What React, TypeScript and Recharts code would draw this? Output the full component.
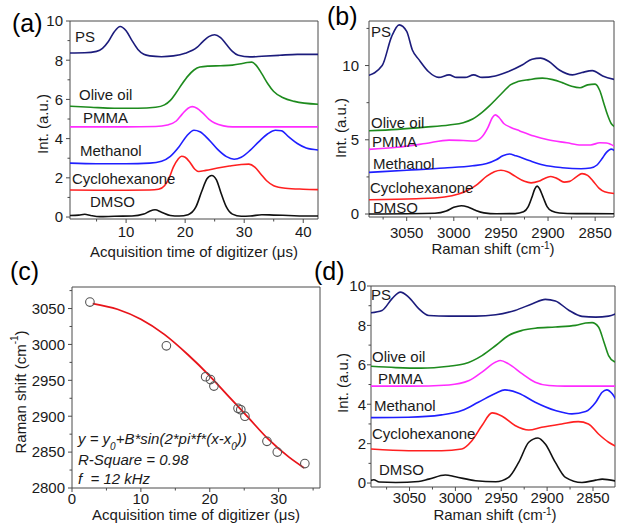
import { ComposedChart, Line, Scatter, XAxis, YAxis, ReferenceArea } from "recharts";

type P = [number, number];

// (a) signal vs acquisition time (µs)
const psA: P[] = [[0.5, 8.37], [3, 8.38], [5, 8.45], [6, 8.6], [7, 8.95], [8, 9.45], [9, 9.72], [10, 9.5], [11, 9.0], [12, 8.55], [13, 8.3], [14, 8.22], [16, 8.18], [18, 8.22], [20, 8.35], [22, 8.65], [23, 8.95], [24, 9.2], [25, 9.3], [26, 9.15], [27, 8.8], [28, 8.45], [29, 8.25], [31, 8.17], [33, 8.2], [36, 8.25], [39, 8.3], [42.5, 8.3]];
const oliveA: P[] = [[0.5, 5.65], [4, 5.6], [8, 5.55], [12, 5.55], [15, 5.6], [16.5, 5.72], [17.5, 5.95], [18.5, 6.35], [19.5, 6.8], [20.5, 7.2], [21.5, 7.5], [22.5, 7.65], [24, 7.7], [26, 7.72], [28, 7.75], [29.5, 7.82], [30.5, 7.88], [31.3, 7.9], [32, 7.75], [33, 7.3], [34, 6.8], [35, 6.4], [36.5, 6.1], [38.5, 5.9], [42.5, 5.75]];
const pmmaA: P[] = [[0.5, 4.6], [10, 4.6], [15, 4.62], [17, 4.7], [18.5, 4.9], [19.5, 5.25], [20.5, 5.55], [21.2, 5.63], [22, 5.55], [23, 5.3], [24, 5.0], [25, 4.8], [26.5, 4.65], [28, 4.6], [42.5, 4.6]];
const methA: P[] = [[0.5, 2.75], [5, 2.72], [10, 2.72], [14, 2.75], [16, 2.85], [17.5, 3.1], [19, 3.6], [20.3, 4.15], [21.5, 4.43], [22.5, 4.35], [24, 3.95], [25.5, 3.45], [27, 3.08], [28.3, 2.95], [29.5, 3.05], [31, 3.4], [32.5, 3.85], [34, 4.25], [35.3, 4.43], [36.3, 4.4], [37.5, 4.1], [39, 3.75], [40.5, 3.52], [42.5, 3.42]];
const cycloA: P[] = [[0.5, 1.38], [5, 1.37], [10, 1.37], [14, 1.38], [15.5, 1.42], [16.5, 1.6], [17.3, 2.0], [18, 2.55], [18.8, 2.95], [19.4, 3.1], [20, 3.05], [20.8, 2.8], [21.6, 2.45], [22.3, 2.32], [23.5, 2.38], [25.5, 2.5], [27.5, 2.6], [29.5, 2.68], [30.8, 2.7], [31.8, 2.55], [32.8, 2.2], [33.8, 1.85], [35, 1.6], [37, 1.47], [40, 1.42], [42.5, 1.4]];
const dmsoA: P[] = [[0.5, 0.08], [2, 0.1], [3, 0.14], [4, 0.08], [5.5, 0.02], [8, 0.04], [11, 0.05], [13, 0.15], [14, 0.3], [14.9, 0.37], [16, 0.25], [17.5, 0.08], [19, 0.05], [20.5, 0.12], [21.8, 0.5], [22.8, 1.3], [23.7, 1.95], [24.5, 2.12], [25.3, 1.9], [26.1, 1.2], [27, 0.5], [28, 0.15], [29.5, 0.04], [31, 0.05], [33, 0.12], [35, 0.1], [37.5, 0.08], [40, 0.05], [42.5, 0.05]];

// (b) reference Raman spectra
const psB: P[] = [[3092, 9.3], [3076, 10.0], [3066, 11.95], [3058, 12.74], [3050, 12.3], [3044, 11.05], [3037, 10.4], [3027, 9.6], [3016, 9.2], [3005, 9.37], [2997, 9.2], [2988, 9.2], [2979, 9.37], [2970, 9.2], [2956, 9.3], [2942, 9.6], [2927, 10.05], [2917, 10.43], [2908, 10.5], [2899, 10.27], [2888, 9.7], [2874, 9.37], [2864, 9.53], [2853, 9.66], [2842, 9.3], [2828, 9.04]];
const oliveB: P[] = [[3092, 5.6], [3060, 5.7], [3030, 5.85], [3005, 6.0], [2990, 6.15], [2980, 6.4], [2970, 6.85], [2962, 7.3], [2955, 7.75], [2948, 8.2], [2940, 8.7], [2932, 8.92], [2920, 9.05], [2906, 9.15], [2895, 9.05], [2885, 8.85], [2875, 8.6], [2866, 8.5], [2858, 8.7], [2850, 8.75], [2845, 8.3], [2841, 7.5], [2837, 6.7], [2833, 6.1], [2828, 5.85]];
const pmmaB: P[] = [[3092, 4.35], [3060, 4.5], [3030, 4.75], [3005, 4.98], [2990, 4.95], [2978, 4.92], [2970, 5.2], [2964, 5.8], [2959, 6.5], [2956, 6.68], [2952, 6.5], [2947, 6.1], [2940, 5.85], [2930, 5.6], [2915, 5.25], [2900, 5.0], [2880, 4.8], [2865, 4.65], [2855, 4.65], [2845, 4.8], [2838, 4.78], [2828, 4.5]];
const methB: P[] = [[3092, 2.8], [3050, 2.95], [3010, 3.1], [2980, 3.25], [2965, 3.4], [2955, 3.65], [2948, 3.92], [2941, 4.04], [2934, 3.92], [2920, 3.6], [2905, 3.3], [2885, 3.12], [2865, 3.05], [2855, 3.1], [2848, 3.3], [2843, 3.7], [2838, 4.15], [2833, 4.37], [2828, 4.2]];
const cycloB: P[] = [[3092, 0.96], [3040, 1.03], [3010, 1.15], [2995, 1.35], [2985, 1.6], [2975, 2.0], [2965, 2.55], [2957, 2.85], [2950, 2.95], [2943, 2.85], [2935, 2.55], [2925, 2.2], [2918, 2.1], [2910, 2.2], [2902, 2.45], [2897, 2.53], [2890, 2.38], [2883, 2.15], [2877, 2.2], [2870, 2.5], [2864, 2.72], [2858, 2.6], [2852, 2.2], [2846, 1.75], [2840, 1.5], [2828, 1.37]];
const dmsoB: P[] = [[3092, 0], [3020, 0.05], [3008, 0.2], [3000, 0.45], [2992, 0.56], [2985, 0.47], [2977, 0.25], [2968, 0.08], [2955, 0.02], [2935, 0.03], [2926, 0.15], [2921, 0.5], [2917, 1.15], [2914, 1.7], [2911.5, 1.88], [2909, 1.7], [2905, 1.1], [2901, 0.5], [2896, 0.2], [2888, 0.07], [2870, 0.03], [2828, 0.02]];

// (c) peak position vs time, with sine fit
const peaks: P[] = [[2.6, 3059], [13.7, 2998], [19.4, 2955], [20.1, 2951], [20.6, 2942], [24.1, 2911], [24.5, 2909], [25.1, 2900], [28.3, 2865], [29.8, 2850], [33.8, 2834]];
const fit: P[] = [[3, 3057], [6.6, 3049], [10, 3035], [13.4, 3014], [16.8, 2986], [19.8, 2958], [22.7, 2928], [25.6, 2898], [28.5, 2868], [31.5, 2843], [33.7, 2828]];

// (d) reconstructed spectra
const psD: P[] = [[3093, 8.64], [3080, 8.76], [3069, 9.36], [3060, 9.69], [3051, 9.44], [3040, 8.85], [3029, 8.5], [3007, 8.47], [2978, 8.47], [2956, 8.54], [2935, 8.76], [2916, 9.1], [2902, 9.32], [2891, 9.24], [2876, 8.76], [2862, 8.46], [2847, 8.42], [2833, 8.47], [2825, 8.59]];
const oliveD: P[] = [[3093, 5.93], [3065, 5.86], [3037, 5.83], [3007, 5.93], [2990, 6.05], [2971, 6.47], [2956, 6.98], [2942, 7.49], [2927, 7.75], [2913, 7.86], [2891, 7.92], [2869, 8.0], [2858, 8.12], [2851, 8.14], [2844, 7.92], [2838, 7.15], [2833, 6.47], [2827, 6.17], [2825, 6.14]];
const pmmaD: P[] = [[3093, 4.92], [3051, 4.92], [3007, 4.98], [2985, 5.2], [2971, 5.63], [2956, 6.14], [2951, 6.22], [2942, 6.05], [2927, 5.54], [2913, 5.12], [2898, 4.95], [2880, 4.92], [2825, 4.92]];
const methD: P[] = [[3093, 3.32], [3051, 3.34], [3015, 3.46], [2993, 3.68], [2975, 4.1], [2956, 4.56], [2946, 4.73], [2931, 4.56], [2913, 4.1], [2891, 3.68], [2873, 3.51], [2858, 3.63], [2847, 4.1], [2840, 4.61], [2835, 4.73], [2829, 4.53], [2825, 4.24]];
const cycloD: P[] = [[3093, 1.73], [3051, 1.64], [3015, 1.64], [2993, 1.73], [2982, 2.15], [2971, 2.92], [2960, 3.56], [2949, 3.39], [2935, 2.92], [2920, 2.69], [2906, 2.83], [2884, 3.0], [2866, 3.12], [2855, 3.0], [2844, 2.49], [2833, 2.07], [2825, 1.86]];
const dmsoD: P[] = [[3093, 0.12], [3089, 0.17], [3083, 0.05], [3065, 0.03], [3040, 0.08], [3029, 0.2], [3011, 0.41], [3000, 0.32], [2978, 0.12], [2956, 0.07], [2942, 0.29], [2931, 1.05], [2920, 2.07], [2910, 2.29], [2902, 1.98], [2891, 1.05], [2880, 0.29], [2862, 0.03], [2847, 0.15], [2840, 0.2], [2825, 0.1]];

const names = ["PS", "Olive oil", "PMMA", "Methanol", "Cyclohexanone", "DMSO"];
const colors = ["#1c1c7c", "#1e8b1e", "#ff2cff", "#1f1fff", "#ff2020", "#111111"];

const timeTicks = [5, 10, 15, 20, 25, 30, 35, 40];
const ramanTicks = [3075, 3050, 3025, 3000, 2975, 2950, 2925, 2900, 2875, 2850];
const ramanMajors = [3050, 3000, 2950, 2900, 2850];
const intTicks10 = [0, 1, 2, 3, 4, 5, 6, 7, 8, 9, 10];
const intMajors10 = [0, 2, 4, 6, 8, 10];
const intTicksB = [0, 2.5, 5, 7.5, 10, 12.5];
const fitXTicks = [0, 5, 10, 15, 20, 25, 30, 35];
const fitYTicks = [2800, 2825, 2850, 2875, 2900, 2925, 2950, 2975, 3000, 3025, 3050, 3075];

const FONT = "Arial, 'Liberation Sans', Helvetica, sans-serif";
const AX = "#4a4a4a";
const TXT = "#1a1a1a";

const toPts = (a: P[]) => a.map(([x, y]) => ({ x, y }));

function xTick(majors: number[], gap: number) {
  return (p: any) => {
    const v = p.payload.value;
    const major = majors.includes(v);
    return (
      <g>
        <line x1={p.x} x2={p.x} y1={p.y} y2={p.y + (major ? 4 : 2.5)} stroke={AX} />
        {major ? (
          <text x={p.x} y={p.y + gap} dy="0.71em" textAnchor="middle" fontSize={15} fontFamily={FONT} fill={TXT}>
            {v}
          </text>
        ) : null}
      </g>
    );
  };
}

function yTick(majors: number[], gap: number) {
  return (p: any) => {
    const v = p.payload.value;
    const major = majors.includes(v);
    return (
      <g>
        <line x1={p.x - (major ? 4 : 2.5)} x2={p.x} y1={p.y} y2={p.y} stroke={AX} />
        {major ? (
          <text x={p.x - gap} y={p.y} dy="0.355em" textAnchor="end" fontSize={15} fontFamily={FONT} fill={TXT}>
            {v}
          </text>
        ) : null}
      </g>
    );
  };
}

function SpectraPanel(props: any) {
  const { box, margin, yWidth, xHeight, xDomain, yDomain, xTicks, xMajors, yTicks, yMajors, reversed, series, xGap, yGap } = props;
  return (
    <div style={{ position: "absolute", left: box[0], top: box[1] }}>
      <ComposedChart width={box[2]} height={box[3]} margin={margin}>
        <XAxis type="number" dataKey="x" domain={xDomain} ticks={xTicks} interval={0} reversed={reversed} allowDataOverflow
          height={xHeight} axisLine={false} tickLine={false} tickSize={0} tickMargin={0} tick={xTick(xMajors, xGap)} />
        <YAxis type="number" dataKey="y" domain={yDomain} ticks={yTicks} interval={0} allowDataOverflow
          width={yWidth} axisLine={false} tickLine={false} tickSize={0} tickMargin={0} tick={yTick(yMajors, yGap)} />
        {series.map((d: P[], i: number) => (
          <Line key={names[i]} data={toPts(d)} dataKey="y" type="monotone" stroke={colors[i]} strokeWidth={1.6}
            dot={false} isAnimationActive={false} />
        ))}
        <ReferenceArea x1={xDomain[0]} x2={xDomain[1]} y1={yDomain[0]} y2={yDomain[1]} fill="none" fillOpacity={0}
          stroke={AX} strokeWidth={1} />
      </ComposedChart>
    </div>
  );
}

function FitPanel() {
  const xDomain = [0, 36];
  const yDomain = [2800, 3080];
  return (
    <div style={{ position: "absolute", left: 0, top: 262 }}>
      <ComposedChart width={330} height={263} margin={{ top: 25, right: 10, bottom: 0, left: 0 }}>
        <XAxis type="number" dataKey="x" domain={xDomain} ticks={fitXTicks} interval={0} allowDataOverflow height={37}
          axisLine={false} tickLine={false} tickSize={0} tickMargin={0} tick={xTick([0, 10, 20, 30], 5)} />
        <YAxis type="number" dataKey="y" domain={yDomain} ticks={fitYTicks} interval={0} allowDataOverflow width={72}
          axisLine={false} tickLine={false} tickSize={0} tickMargin={0}
          tick={yTick([2800, 2850, 2900, 2950, 3000, 3050], 7)} />
        <Line data={toPts(fit)} dataKey="y" type="monotone" stroke="#e8141a" strokeWidth={1.8} dot={false}
          isAnimationActive={false} />
        <Scatter data={toPts(peaks)} dataKey="y" isAnimationActive={false}
          shape={(p: any) => <circle cx={p.cx} cy={p.cy} r={4.3} fill="none" stroke="#555" strokeWidth={1.1} />} />
        <ReferenceArea x1={xDomain[0]} x2={xDomain[1]} y1={yDomain[0]} y2={yDomain[1]} fill="none" fillOpacity={0}
          stroke={AX} strokeWidth={1} />
      </ComposedChart>
    </div>
  );
}

const labelPos: Record<string, [number, number][]> = {
  a: [[75, 42], [79, 100], [83, 123], [80, 156], [72, 184], [90, 207]],
  b: [[371, 37], [371, 128], [372, 147], [373, 169], [370, 193], [373, 213]],
  d: [[371, 300], [372, 362], [378, 384], [374, 411], [372, 439], [379, 475]],
};

function Overlay() {
  const t = { fontFamily: FONT, fontSize: 15, fill: TXT } as const;
  const cm = (
    <>
      Raman shift (cm<tspan baselineShift="super" fontSize={10}>-1</tspan>)
    </>
  );
  return (
    <svg width={618} height={525} style={{ position: "absolute", left: 0, top: 0, pointerEvents: "none" }}>
      <text x={12} y={32} fontSize={25} fontFamily={FONT} fill="#000">(a)</text>
      <text x={327} y={25} fontSize={25} fontFamily={FONT} fill="#000">(b)</text>
      <text x={10} y={280} fontSize={25} fontFamily={FONT} fill="#000">(c)</text>
      <text x={314} y={280} fontSize={25} fontFamily={FONT} fill="#000">(d)</text>

      {(["a", "b", "d"] as const).map((k) =>
        labelPos[k].map(([x, y], i) => (
          <text key={k + i} x={x} y={y} {...t}>{names[i]}</text>
        ))
      )}

      <text x={194} y={257} textAnchor="middle" {...t}>Acquisition time of digitizer (μs)</text>
      <text x={196} y={520} textAnchor="middle" {...t}>Acquisition time of digitizer (μs)</text>
      <text x={493} y={254} textAnchor="middle" {...t}>{cm}</text>
      <text x={495} y={520} textAnchor="middle" {...t}>{cm}</text>

      <text transform="translate(42,124) rotate(-90)" textAnchor="middle" dominantBaseline="central" {...t}>Int. (a.u.)</text>
      <text transform="translate(340.5,128) rotate(-90)" textAnchor="middle" dominantBaseline="central" {...t}>Int. (a.u.)</text>
      <text transform="translate(342.5,383) rotate(-90)" textAnchor="middle" dominantBaseline="central" {...t}>Int. (a.u.)</text>
      <text transform="translate(20,392) rotate(-90)" textAnchor="middle" dominantBaseline="central" {...t}>{cm}</text>

      <text x={78} y={444} fontStyle="italic" {...t}>
        y = y<tspan baselineShift="sub" fontSize={10}>0</tspan>+B*sin(2*pi*f*(x-x<tspan baselineShift="sub" fontSize={10}>0</tspan>))
      </text>
      <text x={78} y={465} fontStyle="italic" {...t}>R-Square = 0.98</text>
      <text x={78} y={484} fontStyle="italic" {...t}>{"f\u00a0 = 12 kHz"}</text>
    </svg>
  );
}

export default function App() {
  return (
    <div style={{ position: "absolute", left: 0, top: 0, width: 618, height: 525, background: "#fff", overflow: "hidden" }}>
      <SpectraPanel box={[0, 0, 330, 262]} margin={{ top: 21, right: 12, bottom: 0, left: 0 }} yWidth={70} xHeight={43}
        xDomain={[0.5, 42.5]} yDomain={[-0.1, 10]} xTicks={timeTicks} xMajors={[10, 20, 30, 40]}
        yTicks={intTicks10} yMajors={intMajors10} reversed={false} xGap={7} yGap={7}
        series={[psA, oliveA, pmmaA, methA, cycloA, dmsoA]} />
      <SpectraPanel box={[300, 0, 318, 262]} margin={{ top: 21, right: 4, bottom: 0, left: 0 }} yWidth={69} xHeight={45}
        xDomain={[2830, 3090]} yDomain={[-0.2, 13]} xTicks={ramanTicks} xMajors={ramanMajors}
        yTicks={intTicksB} yMajors={[0, 5, 10]} reversed xGap={10} yGap={10}
        series={[psB, oliveB, pmmaB, methB, cycloB, dmsoB]} />
      <FitPanel />
      <SpectraPanel box={[300, 262, 318, 263]} margin={{ top: 24, right: 3, bottom: 0, left: 0 }} yWidth={71} xHeight={38}
        xDomain={[2826, 3092]} yDomain={[-0.2, 10]} xTicks={ramanTicks} xMajors={ramanMajors}
        yTicks={intTicks10} yMajors={intMajors10} reversed xGap={5} yGap={5}
        series={[psD, oliveD, pmmaD, methD, cycloD, dmsoD]} />
      <Overlay />
    </div>
  );
}
